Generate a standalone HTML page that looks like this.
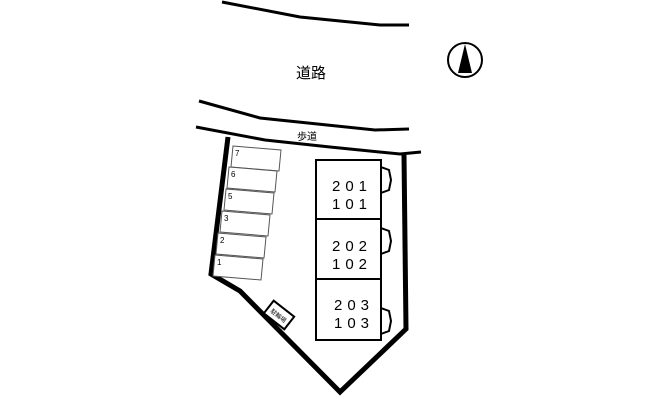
<!DOCTYPE html>
<html><head><meta charset="utf-8"><style>body{margin:0;background:#fff}svg{display:block}</style></head><body>
<svg width="667" height="400" viewBox="0 0 667 400" xmlns="http://www.w3.org/2000/svg" font-family="'Liberation Sans','Noto Sans CJK JP',sans-serif">
<g fill="none" stroke="#000" stroke-width="3">
<polyline points="222,2 300,17 380,25 409,25"/>
<polyline points="199,101 260,118 375,130 409,129"/>
<polyline points="196,127 265,140 330,147 400,154 421,152"/>
</g>
<polyline points="228,137 211,274 240,291 340,392 406,329 404,155" fill="none" stroke="#000" stroke-width="5" stroke-linejoin="miter"/>
<g fill="#fff" stroke="#555" stroke-width="1">
<polygon points="233,146 281,150 279,171 231,167"/>
<polygon points="229,167 277,171 275,192 227,188"/>
<polygon points="226,189 274,193 272,214 224,210"/>
<polygon points="222,211 270,215 268,236 220,232"/>
<polygon points="218,233 266,237 264,258 216,254"/>
<polygon points="215,255 263,259 261,280 213,276"/>
</g>
<g font-size="8" fill="#000">
<text x="235" y="156">7</text><text x="231" y="177">6</text><text x="228" y="199">5</text>
<text x="224" y="221">3</text><text x="220" y="243">2</text><text x="217" y="265">1</text>
</g>
<g fill="#fff" stroke="#000" stroke-width="2">
<path d="M381,167 L389,170 L391,180 L389,190 L381,193"/>
<path d="M381,228 L389,231 L391,241 L389,251 L381,254"/>
<path d="M381,308 L389,311 L391,321 L389,331 L381,334"/>
<rect x="316" y="160" width="65" height="180"/>
<line x1="316" y1="219" x2="381" y2="219"/>
<line x1="316" y1="279" x2="381" y2="279"/>
</g>
<g font-size="15" fill="#000" text-anchor="middle" letter-spacing="5">
<text x="352" y="191">201</text><text x="352" y="209">101</text>
<text x="352" y="251">202</text><text x="352" y="269">102</text>
<text x="354" y="310">203</text><text x="354" y="328">103</text>
</g>
<g transform="translate(279,315) rotate(38)">
<rect x="-13" y="-8" width="26" height="16" fill="#fff" stroke="#000" stroke-width="2"/>
<text x="0" y="3" font-size="6" text-anchor="middle">駐輪場</text>
</g>
<text x="311" y="78" font-size="15" text-anchor="middle">道路</text>
<text x="307" y="140" font-size="10" text-anchor="middle">歩道</text>
<circle cx="465" cy="60" r="17" fill="none" stroke="#000" stroke-width="2"/>
<polygon points="465,44 458,73 472,73" fill="#000"/>
</svg>
</body></html>
